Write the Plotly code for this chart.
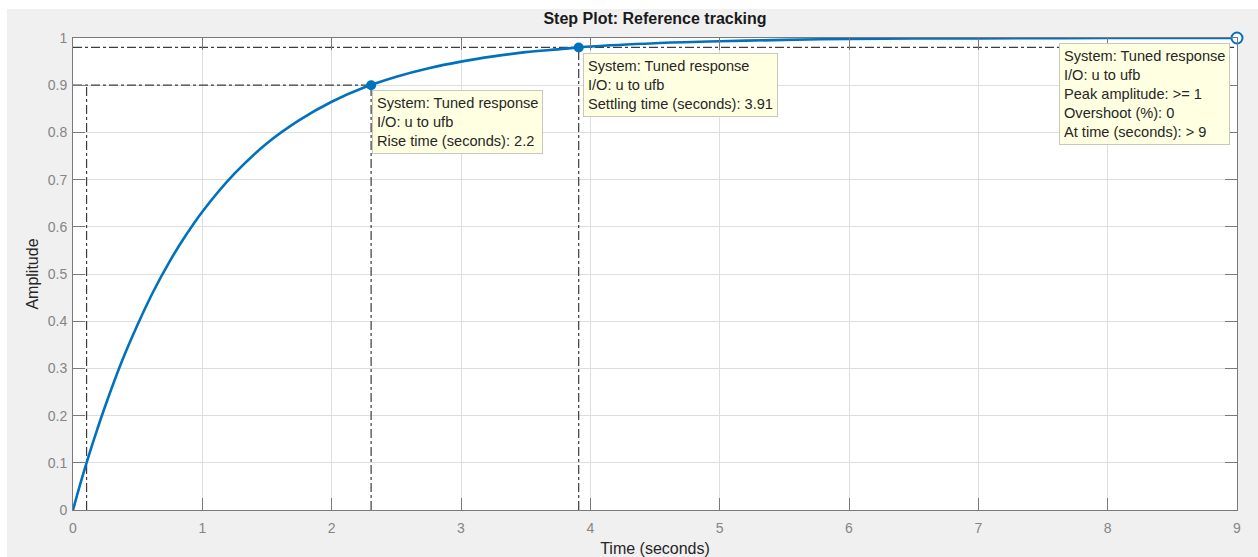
import plotly.graph_objects as go

# Step response samples (time in seconds, amplitude)
time_s = [0, 0.0625, 0.125, 0.1875, 0.25, 0.375, 0.5, 0.625, 0.75, 0.875, 1.0,
          1.25, 1.5, 1.75, 2.0, 2.25, 2.5, 2.75, 3.0, 3.25, 3.5, 3.75, 4.0,
          4.5, 5.0, 5.5, 6.0, 6.5, 7.0, 8.0, 9.0]
amplitude = [0, 0.061, 0.118, 0.171, 0.221, 0.313, 0.393, 0.465, 0.528, 0.583, 0.632,
             0.713, 0.777, 0.826, 0.865, 0.895, 0.918, 0.936, 0.950, 0.961, 0.970,
             0.976, 0.982, 0.989, 0.993, 0.996, 0.998, 0.999, 0.999, 1.000, 1.000]

# Step characteristics
rise_start = 0.105
rise_time = 2.2
rise_low, rise_high = 0.1, 0.9
settling_time = 3.91
settling_level = 0.98
peak_amplitude = 1.0
peak_time = 9.0

x_ticks = [0, 1, 2, 3, 4, 5, 6, 7, 8, 9]
y_ticks = [0, 0.1, 0.2, 0.3, 0.4, 0.5, 0.6, 0.7, 0.8, 0.9, 1]

W, H = 1258, 557
L, R, T, B = 73, 21, 38, 47
PW, PH = W - L - R, H - T - B

def px(x):
    return (x - L) / PW

def py(y):
    return (H - B - y) / PH

FONT = "Liberation Sans, Arial, sans-serif"
BLUE = "#0072BD"
REF = "#3c3c3c"

rise_end = rise_start + rise_time

fig = go.Figure()

ref_style = dict(color=REF, width=1.2, dash="dashdot")

# Rise time reference lines
fig.add_trace(go.Scatter(x=[0, rise_end], y=[rise_high, rise_high], mode="lines",
                         line=ref_style, hoverinfo="skip"))
fig.add_trace(go.Scatter(x=[rise_start, rise_start], y=[0, rise_high], mode="lines",
                         line=ref_style, hoverinfo="skip"))
fig.add_trace(go.Scatter(x=[rise_end, rise_end], y=[0, rise_high], mode="lines",
                         line=ref_style, hoverinfo="skip"))
# Settling time reference lines
fig.add_trace(go.Scatter(x=[0, x_ticks[-1]], y=[settling_level, settling_level], mode="lines",
                         line=ref_style, hoverinfo="skip"))
fig.add_trace(go.Scatter(x=[settling_time, settling_time], y=[0, settling_level], mode="lines",
                         line=ref_style, hoverinfo="skip"))

# Response curve
fig.add_trace(go.Scatter(x=time_s, y=amplitude, mode="lines",
                         line=dict(color=BLUE, width=2.6, shape="spline", smoothing=1.0)))

# Characteristic markers
fig.add_trace(go.Scatter(x=[rise_end, settling_time], y=[rise_high, settling_level],
                         mode="markers", cliponaxis=False,
                         marker=dict(color=BLUE, size=10, line=dict(width=0))))
fig.add_trace(go.Scatter(x=[peak_time], y=[peak_amplitude], mode="markers", cliponaxis=False,
                         marker=dict(color="white", size=11, line=dict(color=BLUE, width=2))))

# Window background and white axes area
shapes = [
    dict(type="rect", xref="paper", yref="paper", x0=px(7), x1=px(W + 5),
         y0=py(H + 5), y1=py(9), fillcolor="#F0F0F0", line_width=0, layer="below"),
    dict(type="rect", xref="paper", yref="paper", x0=0, x1=1, y0=0, y1=1,
         fillcolor="white", line_width=0, layer="below"),
]

tip_font = dict(family=FONT, size=14.6, color="#262626")
tip_common = dict(xref="paper", yref="paper", xanchor="left", yanchor="top", align="left",
                  showarrow=False, bgcolor="#FFFFE1", bordercolor="#c8c8bc",
                  borderwidth=1, borderpad=4, font=tip_font)
annotations = [
    dict(x=px(372), y=py(90),
         text=f"System: Tuned response<br>I/O: u to ufb<br>Rise time (seconds): {rise_time}",
         **tip_common),
    dict(x=px(583), y=py(53),
         text=f"System: Tuned response<br>I/O: u to ufb<br>Settling time (seconds): {settling_time}",
         **tip_common),
    dict(x=px(1059), y=py(43),
         text=("System: Tuned response<br>I/O: u to ufb<br>Peak amplitude: >= 1"
               "<br>Overshoot (%): 0<br>At time (seconds): > 9"),
         **tip_common),
]

axis_common = dict(showline=True, linecolor="#7a7a7a", linewidth=1, mirror="ticks",
                   ticks="inside", ticklen=12, tickcolor="#7a7a7a", tickwidth=1,
                   showgrid=True, gridcolor="#dedede", gridwidth=1, zeroline=False,
                   automargin=False,
                   tickfont=dict(family=FONT, size=14, color="#858585"))

fig.update_layout(
    width=W, height=H,
    margin=dict(l=L, r=R, t=T, b=B, autoexpand=False),
    paper_bgcolor="white", plot_bgcolor="white",
    showlegend=False,
    shapes=shapes,
    annotations=annotations,
    title=dict(text="<b>Step Plot: Reference tracking</b>", x=0.5, xref="paper",
               y=1 - 18 / H, yanchor="middle",
               font=dict(family=FONT, size=16, color="#1a1a1a")),
    xaxis=dict(range=[0, 9], tickvals=x_ticks, ticktext=[str(v) for v in x_ticks],
               title=dict(text="Time (seconds)", standoff=8,
                          font=dict(family=FONT, size=16, color="#262626")),
               ticklabelstandoff=5, **axis_common),
    yaxis=dict(range=[0, 1], tickvals=y_ticks, ticktext=[f"{v:g}" for v in y_ticks],
               title=dict(text="Amplitude", standoff=5,
                          font=dict(family=FONT, size=16, color="#262626")),
               ticklabelstandoff=2, **axis_common),
)

fig.write_html("out.html")
